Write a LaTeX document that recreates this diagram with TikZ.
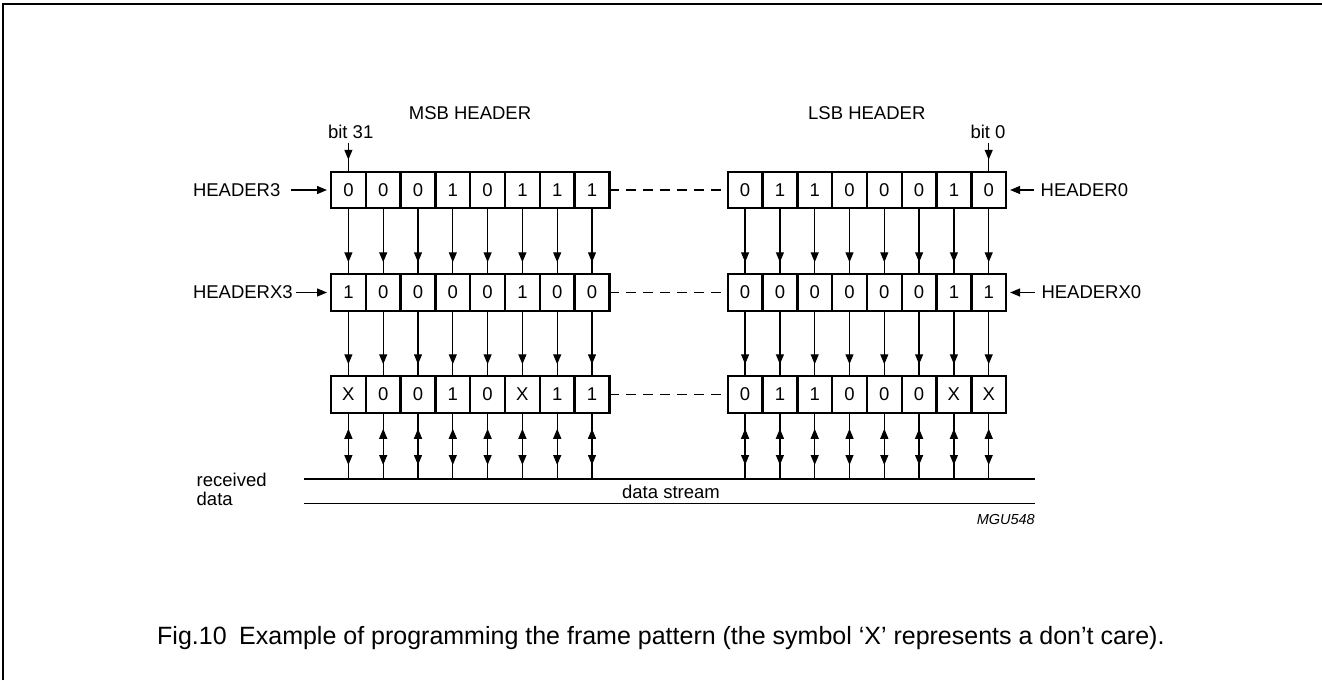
\documentclass[tikz,border=0pt]{standalone}
\usepackage{fontspec}
\setmainfont{Liberation Sans}
\usetikzlibrary{arrows.meta,calc}
\begin{document}
\begin{tikzpicture}[x=1pt,y=-1pt,
  lbl/.style={inner sep=0pt,outer sep=0pt,font=\fontsize{18.5}{22}\selectfont},
  cell/.style={lbl,draw,line width=2.4pt,minimum width=34.8pt,minimum height=36.5pt},
  conn/.style={line width=1.3pt},
  tip/.style={conn,-{Triangle[width=8pt,length=10pt]}},
  dtip/.style={conn,{Triangle[width=8pt,length=10pt]}-{Triangle[width=8pt,length=10pt]}},
  dashline/.style={conn,dash pattern=on 10pt off 7pt},
  frame/.style={line width=2pt}]
\useasboundingbox (0,0) rectangle (1322,680);
% frame
\draw[frame] (2.5,680) -- (2.5,3.5) -- (1322,3.5);
% cells
\foreach \r/\y/\lv/\rv in {1/190/{0,0,0,1,0,1,1,1}/{0,1,1,0,0,0,1,0},
                           2/292.5/{1,0,0,0,0,1,0,0}/{0,0,0,0,0,0,1,1},
                           3/394.5/{X,0,0,1,0,X,1,1}/{0,1,1,0,0,0,X,X}} {
  \foreach \v [count=\i] in \lv {
    \node[cell] (L\r-\i) at ({348.4+34.8*(\i-1)},\y) {\v};
  }
  \foreach \v [count=\i] in \rv {
    \node[cell] (R\r-\i) at ({745.1+34.8*(\i-1)},\y) {\v};
  }
  \draw[dashline] (L\r-8.east) -- (R\r-1.west);
}
% titles
\node[lbl,anchor=base] (msb) at (470,119.3) {MSB HEADER};
\node[lbl,anchor=base] (lsb) at (866.8,119.3) {LSB HEADER};
\node[lbl,anchor=base] (b31) at (350.7,138.3) {bit 31};
\node[lbl,anchor=base] (b0) at (988,138.3) {bit 0};
\coordinate (b31s) at ($(L1-1.north)+(0,-29)$);
\coordinate (b0s) at ($(R1-8.north)+(0,-29)$);
\draw[conn] (b31s) -- (L1-1.north);
\draw[tip] (b31s) -- ($(L1-1.north)+(0,-12)$);
\draw[conn] (b0s) -- (R1-8.north);
\draw[tip] (b0s) -- ($(R1-8.north)+(0,-12)$);
% side labels
\node[lbl,anchor=west] (h3) at (193,190) {HEADER3};
\node[lbl,anchor=west] (hx3) at (193,292.5) {HEADERX3};
\node[lbl,anchor=west] (h0) at (1040.7,190) {HEADER0};
\node[lbl,anchor=west] (hx0) at (1041.5,292.5) {HEADERX0};
\draw[tip] ($(h3.east)+(11,0)$) -- ($(L1-1.west)+(-4,0)$);
\draw[tip] ($(hx3.east)+(3,0)$) -- ($(L2-1.west)+(-4,0)$);
\draw[tip] ($(h0.west)+(-7,0)$) -- ($(R1-8.east)+(4,0)$);
\draw[tip] ($(hx0.west)+(-7,0)$) -- ($(R2-8.east)+(4,0)$);
% data stream lines
\coordinate (dl1) at (304,479);
\coordinate (dr1) at (1035,479);
\coordinate (dl2) at (304,503.3);
\coordinate (dr2) at (1035,503.3);
\draw[conn] (dl1) -- (dr1);
\draw[conn] (dl2) -- (dr2);
% vertical connectors
\foreach \s in {L,R} {
  \foreach \i in {1,...,8} {
    \draw[conn] (\s1-\i.south) -- (\s2-\i.north);
    \draw[tip] (\s1-\i.south) -- ($(\s2-\i.north)+(0,-12)$);
    \draw[conn] (\s2-\i.south) -- (\s3-\i.north);
    \draw[tip] (\s2-\i.south) -- ($(\s3-\i.north)+(0,-12)$);
    \coordinate (D\s-\i) at (\s3-\i.south |- dl1);
    \draw[conn] (\s3-\i.south) -- (D\s-\i);
    \draw[dtip] ($(\s3-\i.south)+(0,16)$) -- ($(D\s-\i)+(0,-14)$);
  }
}
\node[lbl,anchor=base] (ds) at (671,498) {data stream};
\node[lbl,anchor=base west] (rec) at (196.7,486) {received};
\node[lbl,anchor=base west] (dat) at (196.7,505) {data};
\node[inner sep=0pt,anchor=base east,font=\fontsize{14.5}{17}\selectfont\itshape] (mgu) at (1035,524) {MGU548};
% caption
\node[inner sep=0pt,anchor=base west,font=\fontsize{25}{30}\selectfont] (cap) at (157,644)
  {Fig.10\enspace Example of programming the frame pattern (the symbol ‘X’ represents a don’t care).};
\end{tikzpicture}
\end{document}
